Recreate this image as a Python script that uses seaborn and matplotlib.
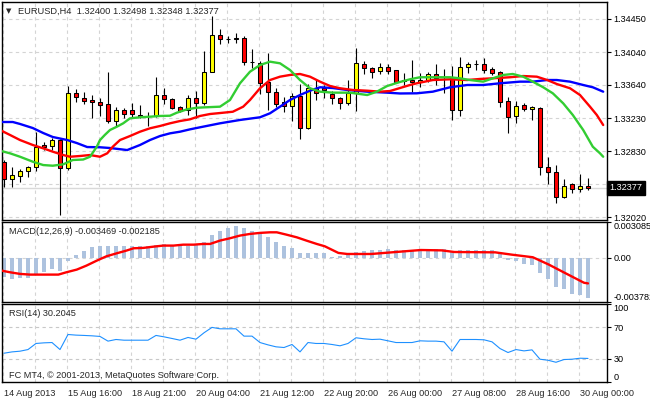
import matplotlib
matplotlib.use("Agg")
import matplotlib.pyplot as plt
import matplotlib.transforms as mtransforms
import seaborn as sns

# ---- data (EURUSD H4) ----
symbol_title = "EURUSD,H4"
header_ohlc = "1.32400 1.32498 1.32348 1.32377"

opens = [1.32695, 1.32487, 1.32527, 1.32589, 1.32638, 1.32904, 1.32895, 1.32965, 1.32618, 1.33542,
         1.33484, 1.33456, 1.33431, 1.33407, 1.33198, 1.33333, 1.33333, 1.33276, 1.33263, 1.33260,
         1.33514, 1.33465, 1.33374, 1.33333, 1.33484, 1.33415, 1.33796, 1.34254, 1.34204, 1.34211,
         1.34213, 1.33922, 1.33914, 1.33673, 1.33550, 1.33431, 1.33386, 1.33509, 1.33109, 1.33600,
         1.33603, 1.33526, 1.33477, 1.33415, 1.33538, 1.33894, 1.33845, 1.33816, 1.33857, 1.33824,
         1.33701, 1.33701, 1.33673, 1.33701, 1.33771, 1.33744, 1.33742, 1.33333, 1.33857, 1.33898,
         1.33894, 1.33833, 1.33796, 1.33444, 1.33263, 1.33391, 1.33342, 1.33354, 1.32630, 1.32569,
         1.32262, 1.32425, 1.32360, 1.32400]
highs = [1.32720, 1.32634, 1.32609, 1.32646, 1.33067, 1.32941, 1.32990, 1.32977, 1.33628, 1.33591,
         1.33554, 1.33517, 1.33481, 1.33800, 1.33374, 1.33358, 1.33419, 1.33395, 1.33312, 1.33742,
         1.33607, 1.33477, 1.33382, 1.33517, 1.33566, 1.34051, 1.34490, 1.34323, 1.34241, 1.34274,
         1.34241, 1.34082, 1.33938, 1.34029, 1.33600, 1.33493, 1.33542, 1.33649, 1.33658, 1.33701,
         1.33640, 1.33566, 1.33489, 1.33701, 1.34090, 1.33935, 1.33857, 1.33906, 1.33894, 1.33830,
         1.33781, 1.33947, 1.33784, 1.33803, 1.33898, 1.33833, 1.33873, 1.33980, 1.33926, 1.33947,
         1.33968, 1.33857, 1.33816, 1.33496, 1.33447, 1.33423, 1.33386, 1.33366, 1.32753, 1.32658,
         1.32483, 1.32441, 1.32548, 1.32498]
lows = [1.32389, 1.32389, 1.32450, 1.32515, 1.32585, 1.32842, 1.32842, 1.32051, 1.32597, 1.33431,
        1.33407, 1.33239, 1.33260, 1.33170, 1.33128, 1.33235, 1.33235, 1.33235, 1.33141, 1.33251,
        1.33403, 1.33346, 1.33309, 1.33276, 1.33239, 1.33395, 1.33796, 1.34139, 1.34159, 1.34152,
        1.33885, 1.33845, 1.33526, 1.33333, 1.33374, 1.33309, 1.33202, 1.32974, 1.33096, 1.33456,
        1.33477, 1.33403, 1.33342, 1.33395, 1.33325, 1.33771, 1.33730, 1.33775, 1.33771, 1.33668,
        1.33640, 1.33558, 1.33619, 1.33681, 1.33640, 1.33546, 1.33211, 1.33260, 1.33791, 1.33824,
        1.33791, 1.33763, 1.33366, 1.33047, 1.33177, 1.33325, 1.33211, 1.32536, 1.32425, 1.32188,
        1.32256, 1.32311, 1.32331, 1.32348]
closes = [1.32487, 1.32536, 1.32589, 1.32638, 1.32883, 1.32885, 1.32965, 1.32618, 1.33542, 1.33493,
          1.33447, 1.33428, 1.33398, 1.33198, 1.33333, 1.33281, 1.33281, 1.33251, 1.33257, 1.33514,
          1.33465, 1.33361, 1.33325, 1.33484, 1.33415, 1.33800, 1.34254, 1.34201, 1.34203, 1.34204,
          1.33919, 1.33916, 1.33661, 1.33550, 1.33403, 1.33382, 1.33509, 1.33109, 1.33597, 1.33546,
          1.33579, 1.33477, 1.33415, 1.33546, 1.33906, 1.33845, 1.33803, 1.33857, 1.33816, 1.33673,
          1.33689, 1.33673, 1.33701, 1.33771, 1.33730, 1.33738, 1.33333, 1.33857, 1.33894, 1.33895,
          1.33824, 1.33791, 1.33435, 1.33251, 1.33386, 1.33342, 1.33366, 1.32630, 1.32569, 1.32262,
          1.32404, 1.32364, 1.32404, 1.32377]

# moving averages (blue / red / green), bar position vs price
jaw_pos = [-0.25, 1.1, 2, 3.6, 4.9, 6.1, 7.9, 9.1, 10.4, 12, 13.25, 15.4, 17, 18.25, 19.5, 20.75,
           22, 23.25, 24.5, 27, 29.5, 32, 33.25, 34.5, 35.75, 37, 38.25, 39.5, 41.1, 42.9, 45.4,
           47.9, 49.5, 51.6, 53.6, 55.75, 57.9, 59.9, 62, 64.5, 66.1, 67.9, 69.1, 70.75, 72.4,
           73.6, 74.9]
jaw_val = [1.33186, 1.33186, 1.33162, 1.33112, 1.33051, 1.33002, 1.32965, 1.32928, 1.32879,
           1.32876, 1.32867, 1.32842, 1.32904, 1.32965, 1.33014, 1.33047, 1.33067, 1.33096,
           1.33121, 1.33170, 1.33211, 1.33244, 1.33293, 1.33374, 1.33456, 1.33517, 1.33570,
           1.33612, 1.33603, 1.33579, 1.33558, 1.33546, 1.33536, 1.33538, 1.33558, 1.33612,
           1.33640, 1.33640, 1.33661, 1.33681, 1.33681, 1.33701, 1.33701, 1.33681, 1.33640,
           1.33612, 1.33558]

teeth_pos = [-0.5, 0.75, 2, 3.6, 4.9, 6.1, 7.4, 8.25, 9.5, 10.75, 12, 12.9, 13.6, 14.5, 15.75,
             17, 18.25, 19.5, 20.75, 22, 23.25, 24.5, 25.75, 27, 28.6, 29.9, 30.75, 32, 33.25,
             34.5, 35.75, 37, 38.25, 39.5, 40.75, 42, 43.6, 45.4, 47, 48.25, 49.5, 50.75, 51.6,
             53.6, 55.75, 57.9, 59.5, 61.1, 63.25, 64.9, 66.6, 67.9, 69.1, 70.75, 72, 73.25,
             74.1, 74.9]
teeth_val = [1.33088, 1.33027, 1.32965, 1.32904, 1.32863, 1.32822, 1.32781, 1.32760, 1.32769,
             1.32781, 1.32760, 1.32802, 1.32883, 1.32965, 1.33014, 1.33067, 1.33109, 1.33137,
             1.33170, 1.33198, 1.33219, 1.33260, 1.33284, 1.33296, 1.33312, 1.33374, 1.33456,
             1.33600, 1.33701, 1.33742, 1.33763, 1.33775, 1.33742, 1.33681, 1.33628, 1.33600,
             1.33579, 1.33570, 1.33558, 1.33566, 1.33603, 1.33640, 1.33661, 1.33701, 1.33710,
             1.33701, 1.33714, 1.33722, 1.33735, 1.33750, 1.33742, 1.33701, 1.33652, 1.33600,
             1.33517, 1.33374, 1.33272, 1.33149]

lips_pos = [-0.5, 0.75, 2, 3.6, 4.9, 6.1, 7.4, 8.6, 9.9, 10.75, 11.6, 12, 12.6, 13.25, 14.1, 14.9,
            15.75, 17, 18.25, 19.5, 20.75, 21.6, 22.9, 24.1, 25.1, 27, 28.25, 29.5, 30.75, 32,
            33.25, 34.5, 35.75, 37, 38.25, 39.5, 41.1, 43.25, 45.4, 46.6, 47.9, 49.5, 50.75, 52,
            53.6, 55.75, 57, 58.25, 59.9, 61.1, 62.4, 63.6, 64.9, 66.1, 67.4, 68.6, 69.9, 71.1,
            72.4, 73.6, 74.5, 74.9]
lips_val = [1.32834, 1.32802, 1.32760, 1.32699, 1.32658, 1.32650, 1.32667, 1.32720, 1.32726,
            1.32760, 1.32883, 1.32965, 1.33027, 1.33088, 1.33128, 1.33170, 1.33231, 1.33244,
            1.33251, 1.33260, 1.33263, 1.33300, 1.33342, 1.33361, 1.33366, 1.33374, 1.33456,
            1.33661, 1.33803, 1.33885, 1.33926, 1.33906, 1.33824, 1.33701, 1.33600, 1.33558,
            1.33546, 1.33546, 1.33517, 1.33558, 1.33628, 1.33677, 1.33710, 1.33735, 1.33735,
            1.33735, 1.33722, 1.33701, 1.33681, 1.33722, 1.33763, 1.33775, 1.33742, 1.33681,
            1.33612, 1.33538, 1.33415, 1.33272, 1.33088, 1.32883, 1.32802, 1.32760]

# MACD(12,26,9): histogram per bar + signal line
macd_hist = [-0.00166, -0.0018, -0.00172, -0.00172, -0.00137, -0.00123, -0.00094, -0.00109,
             -0.0003, 0.00026, 0.00057, 0.00092, 0.00106, 0.00106, 0.00106, 0.00106, 0.00106,
             0.00106, 0.00106, 0.00114, 0.0012, 0.00114, 0.00106, 0.00106, 0.00112, 0.00134,
             0.002, 0.00229, 0.00257, 0.00272, 0.00257, 0.00229, 0.00206, 0.00177, 0.00134,
             0.001, 0.00083, 0.0004, 0.0004, 0.0004, 0.0004, 0.0001, 0.0002, 0.0003, 0.0005,
             0.0006, 0.0007, 0.0007, 0.0008, 0.0007, 0.0007, 0.0007, 0.0006, 0.0007, 0.0008,
             0.0008, 0.0006, 0.0007, 0.0007, 0.0007, 0.0007, 0.0007, 0.0004, -0.00014, -0.00028,
             -0.0005, -0.0006, -0.0013, -0.0018, -0.0025, -0.0027, -0.0031, -0.0032, -0.003469]
signal_pos = [-0.3, 0.75, 2, 3.25, 4.5, 5.75, 6.8, 7.8, 9.1, 10.3, 11.6, 12.8, 14.1, 15.3, 16.2,
              17.4, 18.7, 19.9, 21.2, 22.4, 23.7, 24.9, 25.75, 27, 28.25, 29.5, 30.75, 32, 33.25,
              34.1, 35.3, 36.6, 37.8, 39.1, 40.1, 41.8, 42.9, 45.9, 49, 52.1, 54.7, 56.3, 61.4,
              63.5, 66.1, 68.1, 69.7, 72.5, 73]
signal_val = [-0.00109, -0.00123, -0.00137, -0.00143, -0.00143, -0.00143, -0.00143, -0.00123,
              -0.001, -0.00066, -0.00023, 0.00014, 0.0004, 0.00063, 0.00083, 0.00086, 0.00097,
              0.00106, 0.00106, 0.00114, 0.00114, 0.0012, 0.0012, 0.00149, 0.00169, 0.00192,
              0.00206, 0.00215, 0.0022, 0.0022, 0.002, 0.00177, 0.00149, 0.0012, 0.001, 0.00043,
              0.00034, 0.00034, 0.00051, 0.00068, 0.00065, 0.00051, 0.00048, 0.00028, 0.00006,
              -0.00057, -0.00114, -0.00213, -0.002185]

rsi = [36.9, 38.6, 39.5, 41.6, 49.4, 50.2, 50.6, 41.6, 60.9, 60.1,
       59.7, 59.2, 58.4, 52.4, 54.5, 53.6, 53.6, 53.6, 53.6, 59.7,
       57.9, 55.8, 53.6, 57.1, 54.9, 63.1, 70.0, 68.2, 68.2, 68.2,
       58.8, 58.8, 50.6, 47.6, 45.1, 44.2, 48.1, 38.6, 50.6, 49.4,
       49.4, 48.1, 46.4, 49.4, 56.7, 55.4, 54.5, 54.9, 52.8, 50.6,
       50.6, 50.6, 52.8, 52.4, 52.4, 51.5, 39.5, 54.5, 54.5, 54.5,
       54.1, 51.5, 42.9, 37.8, 41.6, 39.9, 41.2, 29.2, 27.9, 25.3,
       28.8, 29.2, 30.5, 30.2]
rsi_last_text = "30.2045"

price_ticks = [1.34450, 1.34040, 1.33640, 1.33230, 1.32830, 1.32430, 1.32020]
macd_ticks = [0.003085, 0.0, -0.003782]
macd_tick_labels = ["0.003085", "0.00", "-0.003782"]
rsi_ticks = [100, 70, 30, 0]
date_ticks = [0, 8, 16, 24, 32, 40, 48, 56, 64, 72]
date_labels = ["14 Aug 2013", "15 Aug 16:00", "18 Aug 21:00", "20 Aug 04:00", "21 Aug 12:00",
               "22 Aug 20:00", "26 Aug 00:00", "27 Aug 08:00", "28 Aug 16:00", "30 Aug 00:00"]

sns.set_style("white")
plt.rcParams["font.family"] = ["Liberation Sans", "DejaVu Sans"]
fs = 6.6

bars = list(range(len(closes)))
grid_color = "#d4d4d4"
grid_ls = (0, (3, 3))

fig = plt.figure(figsize=(6.5, 4.0), dpi=100)
ax_main = fig.add_axes([2 / 650, 1 - 220 / 400, 605 / 650, 218 / 400])
ax_macd = fig.add_axes([2 / 650, 1 - 302 / 400, 605 / 650, 80 / 400])
ax_rsi = fig.add_axes([2 / 650, 1 - 382 / 400, 605 / 650, 78 / 400])

for ax in (ax_main, ax_macd, ax_rsi):
    ax.set_xlim(-0.25, 75.375)
    for s in ax.spines.values():
        s.set_color("black")
        s.set_linewidth(1.0)
    for gx in range(0, 76, 4):
        ax.axvline(gx - 0.1, color=grid_color, lw=0.8, ls=grid_ls, zorder=0)
    ax.yaxis.tick_right()
    ax.tick_params(axis="y", direction="out", length=3, width=0.8, pad=1.5, labelsize=fs,
                   colors="black")

# ---- main price panel ----
ax_main.set_ylim(1.31984, 1.34658)
for p in price_ticks:
    ax_main.axhline(p, color=grid_color, lw=0.8, ls=grid_ls, zorder=0)
ax_main.axhline(closes[-1], color="#d9d9d9", lw=1.0, zorder=0.5)

ax_main.vlines(bars, lows, highs, color="black", lw=0.8, zorder=2)
body_low = [min(o, c) for o, c in zip(opens, closes)]
body_h = [max(abs(c - o), 0.000012) for o, c in zip(opens, closes)]
body_col = ["#ffff00" if c >= o else "#ff0000" for o, c in zip(opens, closes)]
ax_main.bar(bars, body_h, bottom=body_low, width=0.62, color=body_col,
            edgecolor="black", linewidth=0.75, zorder=3)

sns.lineplot(x=jaw_pos, y=jaw_val, ax=ax_main, color="#0000ff", lw=1.7,
             estimator=None, sort=False, zorder=4)
sns.lineplot(x=teeth_pos, y=teeth_val, ax=ax_main, color="#ff0000", lw=1.7,
             estimator=None, sort=False, zorder=4)
sns.lineplot(x=lips_pos, y=lips_val, ax=ax_main, color="#32cd32", lw=1.7,
             estimator=None, sort=False, zorder=4)

ax_main.set_yticks(price_ticks)
ax_main.set_yticklabels([f"{p:.5f}" for p in price_ticks])
ax_main.set_xticks([])
ax_main.set_xlabel("")
ax_main.set_ylabel("")

trans = mtransforms.blended_transform_factory(ax_main.transAxes, ax_main.transData)
ax_main.text(1.004, closes[-1], f"{closes[-1]:.5f}", transform=trans, color="white",
             fontsize=fs, va="center", ha="left", zorder=6,
             bbox=dict(boxstyle="square,pad=0.3", fc="black", ec="black"))

fig.text(6 / 650, 1 - 11 / 400, "\u25bc", fontsize=5, va="center", ha="left",
         family=["DejaVu Sans"])
fig.text(18 / 650, 1 - 11 / 400, f"{symbol_title}  {header_ohlc}", fontsize=6.7,
         va="center", ha="left")

# ---- MACD panel ----
ax_macd.set_ylim(-0.003782, 0.003085)
ax_macd.axhline(0, color=grid_color, lw=0.8, ls=grid_ls, zorder=0)
ax_macd.bar(bars, macd_hist, width=0.42, color="#adc2de", linewidth=0, zorder=2)
sns.lineplot(x=signal_pos, y=signal_val, ax=ax_macd, color="#ff0000", lw=1.7,
             estimator=None, sort=False, zorder=3)
ax_macd.set_yticks(macd_ticks)
ax_macd.set_yticklabels(macd_tick_labels)
lbls = ax_macd.get_yticklabels()
lbls[0].set_va("top")
lbls[2].set_va("bottom")
ax_macd.set_xticks([])
ax_macd.set_xlabel("")
ax_macd.set_ylabel("")
ax_macd.text(7 / 605, 1 - 10 / 80, f"MACD(12,26,9) {macd_hist[-1]:.6f} {signal_val[-1]:.6f}",
             transform=ax_macd.transAxes, fontsize=fs, va="center", ha="left")

# ---- RSI panel ----
ax_rsi.set_ylim(0, 100)
for lvl in (70, 30):
    ax_rsi.axhline(lvl, color="#c8c8c8", lw=0.8, ls=grid_ls, zorder=0)
sns.lineplot(x=bars, y=rsi, ax=ax_rsi, color="#1e90ff", lw=0.8,
             estimator=None, sort=False, zorder=3)
ax_rsi.set_yticks(rsi_ticks)
ax_rsi.set_yticklabels([str(v) for v in rsi_ticks])
rl = ax_rsi.get_yticklabels()
rl[0].set_va("top")
rl[3].set_va("bottom")
ax_rsi.set_xticks(date_ticks)
ax_rsi.set_xticklabels(date_labels)
ax_rsi.tick_params(axis="x", direction="out", length=3, width=0.8, pad=2, labelsize=fs)
for t in ax_rsi.get_xticklabels():
    t.set_ha("left")
ax_rsi.set_xlabel("")
ax_rsi.set_ylabel("")
ax_rsi.text(7 / 605, 1 - 10 / 78, f"RSI(14) {rsi_last_text}",
            transform=ax_rsi.transAxes, fontsize=fs, va="center", ha="left")
ax_rsi.text(7 / 605, 7 / 78, "FC MT4, \u00a9 2001-2013, MetaQuotes Software Corp.",
            transform=ax_rsi.transAxes, fontsize=fs, va="center", ha="left")

fig.savefig("out.png", dpi=100, facecolor="white")
